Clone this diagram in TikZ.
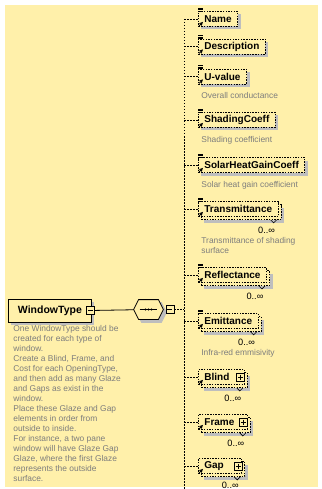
\documentclass[tikz,border=0pt]{standalone}
\usepackage{fontspec}
\setmainfont{Liberation Sans}
\usepackage{tikz}
\usetikzlibrary{calc,positioning,shadows}

\definecolor{bgyellow}{RGB}{255,240,170}
\definecolor{shadegray}{RGB}{190,190,190}
\definecolor{notegray}{RGB}{125,125,125}

\newcommand{\xsdlabel}{\fontsize{10}{12}\selectfont\bfseries}
\newcommand{\xsdroot}{\fontsize{10.5}{12}\selectfont\bfseries}
\newcommand{\xsdnote}{\fontsize{8.4}{10}\selectfont}
\newcommand{\xsdocc}{\fontsize{9.2}{10}\selectfont}
\newcommand{\togspace}[1]{\rule{#1}{0pt}}

\tikzset{
  box/.style={draw, dash pattern=on 1.5pt off 1.2pt, fill=bgyellow,
    font=\xsdlabel, minimum height=15pt, inner xsep=6pt, inner ysep=0pt,
    anchor=west},
  elem/.style={box,
    drop shadow={shadow xshift=3pt, shadow yshift=-3pt, fill=shadegray, opacity=1}},
  multi/.style={box,
    drop shadow={shadow xshift=6pt, shadow yshift=-6pt, fill=shadegray, opacity=1},
    copy shadow={shadow xshift=3pt, shadow yshift=-3pt, draw,
      dash pattern=on 1.5pt off 1.2pt, fill=bgyellow}},
  note/.style={font=\xsdnote, text=notegray, inner sep=0pt, anchor=north west,
    align=left},
  mult/.style={font=\xsdocc, inner sep=0pt},
  conn/.style={dash pattern=on 1.5pt off 1.5pt},
  toggle/.style={draw, solid, fill=bgyellow, minimum size=8pt, inner sep=0pt},
  minus/.style={toggle, path picture={
    \draw ([xshift=1.5pt]path picture bounding box.west)
       -- ([xshift=-1.5pt]path picture bounding box.east);}},
  plus/.style={toggle, path picture={
    \draw ([xshift=1.5pt]path picture bounding box.west)
       -- ([xshift=-1.5pt]path picture bounding box.east);
    \draw ([yshift=-1.5pt]path picture bounding box.north)
       -- ([yshift=1.5pt]path picture bounding box.south);}}
}

\begin{document}
\begin{tikzpicture}[x=1pt, y=-1pt, >=stealth, line width=0.8pt]
    \fill[white] (0,0) rectangle (321,489);
    \fill[bgyellow] (5,5) rectangle (318,487);
    \useasboundingbox (0,0) rectangle (321,489);

    % root element and sequence
    \node[draw, fill=bgyellow, font=\xsdroot, minimum width=83pt,
          minimum height=23pt, anchor=west,
          drop shadow={shadow xshift=3pt, shadow yshift=-3pt, fill=shadegray, opacity=1}]
          (wtype) at (8,310.5) {WindowType};
    \node[minus] (wtype-tog) at ([xshift=-1pt]wtype.east) {};
    \node[minimum width=29pt, minimum height=19pt, inner sep=0pt] (seq) at (148.5,309.5) {};
    \foreach \o/\c/\d in {3/shadegray/shadegray,0/bgyellow/black} {
      \filldraw[fill=\c, draw=\d]
        ([shift={(\o pt,-\o pt)}]seq.west)
        -- ([shift={(\o pt+5pt,-\o pt)}]seq.north west)
        -- ([shift={(\o pt-5pt,-\o pt)}]seq.north east)
        -- ([shift={(\o pt,-\o pt)}]seq.east)
        -- ([shift={(\o pt-5pt,-\o pt)}]seq.south east)
        -- ([shift={(\o pt+5pt,-\o pt)}]seq.south west) -- cycle;
    };
    \node[minus] (seq-tog) at ([xshift=6.5pt]seq.east) {};
    \draw ([xshift=6pt]seq.west) -- ([xshift=-6pt]seq.east);
    \foreach \d in {-3,0,3} {\fill ([xshift=\d pt]seq.center) circle (1.1pt);};

    \node[note] (wtype-doc) at ([xshift=5pt,yshift=-3pt]wtype.south west)
      {One WindowType should be\\created for each type of\\window.\\
       Create a Blind, Frame, and\\Cost for each OpeningType,\\
       and then add as many Glaze\\and Gaps as exist in the\\window.\\
       Place these Glaze and Gap\\elements in order from\\outside to inside.\\
       For instance, a two pane\\window will have Glaze Gap\\
       Glaze, where the first Glaze\\represents the outside\\surface.};

    % child elements
    \node[elem]  (name)  at (198,19)    {Name};
    \node[elem]  (desc)  at (198,46.5)  {Description};
    \node[elem]  (uval)  at (198,76.5)  {U-value};
    \node[elem]  (shade) at (198,120)   {ShadingCoeff};
    \node[elem]  (shgc)  at (198,165)   {SolarHeatGainCoeff};
    \node[multi] (trans) at (198,209)   {Transmittance};
    \node[multi] (refl)  at (198,275)   {Reflectance};
    \node[multi] (emit)  at (198,321)   {Emittance};
    \node[multi] (blind) at (198,377)   {Blind\togspace{9pt}};
    \node[multi] (frame) at (198,422)   {Frame\togspace{7pt}};
    \node[multi] (gap)   at (198,466)   {Gap\togspace{12pt}};

    \foreach \n in {blind,frame,gap} {\node[plus] (\n-tog) at ([xshift=-4pt]\n.east) {};};

    \node[note] (uval-doc)  at ([xshift=3pt,yshift=-8pt]uval.south west)   {Overall conductance};
    \node[note] (shade-doc) at ([xshift=3pt,yshift=-8pt]shade.south west)  {Shading coefficient};
    \node[note] (shgc-doc)  at ([xshift=3pt,yshift=-8pt]shgc.south west)   {Solar heat gain coefficient};
    \node[note] (trans-doc) at ([xshift=3pt,yshift=-20.5pt]trans.south west) {Transmittance of shading\\surface};
    \node[note] (emit-doc)  at ([xshift=3pt,yshift=-20.5pt]emit.south west)  {Infra-red emmisivity};

    % connectors
    \coordinate (bus) at (184,489);
    \draw[conn] (name.west -| bus) -- (bus);
    \path (wtype-tog) edge (seq)
          (seq-tog)   edge[conn] (seq-tog -| bus);
    \foreach \n in {name,desc,uval,shade,shgc,trans,refl,emit,blind,frame,gap} {
      \draw[conn] (\n.west -| bus) -- (\n.west);
      \draw[->, solid, line width=0.9pt] ([xshift=1pt,yshift=1pt]\n.south west) -- +(4pt,4pt);
    };
    \foreach \n in {name,desc,uval,shade,shgc,trans,refl,emit} {
      \foreach \k in {0,1.6,3.2} {\draw[solid, line width=0.6pt] ([yshift=\k pt]\n.north west) -- +(4.5pt,0);};
    };
    \foreach \n/\y in {trans/13,refl/13,emit/13,blind/13,frame/13,gap/11} {
      \node[mult] (\n-occ) at ([xshift=-12pt,yshift=-\y pt]\n.south east) {0..∞};
      \draw[solid, line width=0.6pt] ([xshift=-8pt,yshift=-3pt]\n.south east) -- +(3pt,-3pt) -- +(6pt,0);
    };
\end{tikzpicture}
\end{document}
